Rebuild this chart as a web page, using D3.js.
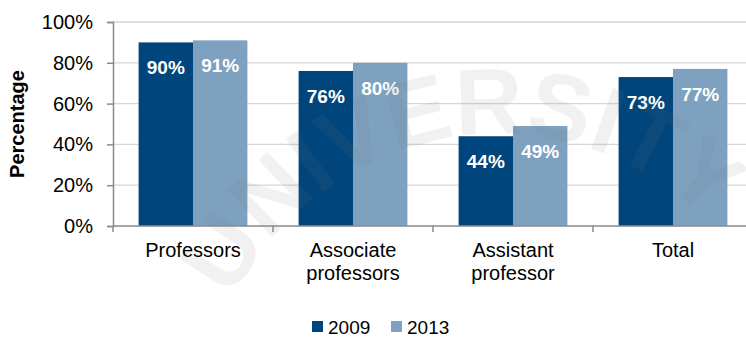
<!DOCTYPE html>
<html>
<head>
<meta charset="utf-8">
<script src="https://cdn.jsdelivr.net/npm/d3@7"></script>
<style>
  html, body { margin: 0; padding: 0; background: #fff; }
  svg { display: block; font-family: "Liberation Sans", Arial, sans-serif; }
</style>
</head>
<body>
<svg id="chart" width="746" height="338"></svg>
<script>
// Share of staff by rank, 2009 vs 2013
const categories = [["Professors"], ["Associate", "professors"], ["Assistant", "professor"], ["Total"]];
const seriesNames = ["2009", "2013"];
const values2009 = [90, 76, 44, 73];
const values2013 = [91, 80, 49, 77];
const yTicks = [0, 20, 40, 60, 80, 100];
const colors = ["#00467c", "#7ea1bf"];

const svg = d3.select("#chart");
const W = 746, H = 338;
const plot = { left: 113, right: 753, top: 22, bottom: 226 };

const keys = categories.map(c => c.join(" "));
// full-width category slots (for separators and labels)
const xCat = d3.scaleBand().domain(keys).range([plot.left, plot.right]);
// bar clusters inside each slot
const x0 = d3.scaleBand().domain(keys).range([plot.left, plot.right])
  .paddingInner(0.32).paddingOuter(0.16);
const x1 = d3.scaleBand().domain(seriesNames).range([0, x0.bandwidth()]);
const y = d3.scaleLinear().domain([0, 100]).range([plot.bottom, plot.top]);

// horizontal gridlines
svg.append("g").selectAll("line").data(yTicks.filter(t => t > 0)).join("line")
  .attr("x1", plot.left).attr("x2", W)
  .attr("y1", d => y(d)).attr("y2", d => y(d))
  .attr("stroke", "#d6d6d6").attr("stroke-width", 1.3);

// bars
const rows = keys.map((k, i) => ({ key: k, vals: [values2009[i], values2013[i]] }));
const groups = svg.append("g").selectAll("g").data(rows).join("g")
  .attr("transform", d => `translate(${x0(d.key)},0)`);

groups.selectAll("rect").data(d => d.vals.map((v, j) => ({ v, s: seriesNames[j], j }))).join("rect")
  .attr("x", d => x1(d.s))
  .attr("width", x1.bandwidth())
  .attr("y", d => y(d.v))
  .attr("height", d => y(0) - y(d.v))
  .attr("fill", d => colors[d.j]);

// faint arched watermark lettering
const wmMid = -0.16, wmHalf = 1.3;
const wm = svg.append("g").attr("pointer-events", "none");
wm.append("path").attr("id", "wmArc")
  .attr("d", d3.arc()({ innerRadius: 296, outerRadius: 296,
                        startAngle: wmMid - wmHalf, endAngle: wmMid + wmHalf }))
  .attr("transform", "translate(498,430)")
  .attr("fill", "none");
wm.append("text")
  .attr("font-size", 94).attr("font-weight", "bold")
  .attr("fill", "#7a7a7a").attr("fill-opacity", 0.1)
  .append("textPath").attr("href", "#wmArc")
  .attr("startOffset", "25%").attr("text-anchor", "middle")
  .text("UNIVERSITY");

// value labels
groups.selectAll("text.val").data(d => d.vals.map((v, j) => ({ v, s: seriesNames[j] }))).join("text")
  .attr("class", "val")
  .attr("x", d => x1(d.s) + x1.bandwidth() / 2)
  .attr("y", d => y(d.v) + 32)
  .attr("text-anchor", "middle")
  .attr("font-size", 19).attr("font-weight", "bold")
  .attr("fill", "#fff")
  .text(d => d.v + "%");

// y axis
const yAxis = svg.append("g").attr("transform", `translate(${plot.left},0)`)
  .call(d3.axisLeft(y).tickValues(yTicks).tickFormat(d => d + "%").tickSizeOuter(0).tickSize(6).tickPadding(14));
yAxis.select(".domain").attr("stroke", "#8a8a8a").attr("stroke-width", 1.5);
yAxis.selectAll(".tick line").attr("stroke", "#8a8a8a").attr("stroke-width", 1.5);
yAxis.selectAll(".tick text").attr("font-size", 20).attr("fill", "#000")
  .attr("font-family", "Liberation Sans, Arial, sans-serif");

// x axis baseline and category separators
const xAxis = svg.append("g");
xAxis.append("line").attr("x1", plot.left).attr("x2", W)
  .attr("y1", y(0)).attr("y2", y(0))
  .attr("stroke", "#8a8a8a").attr("stroke-width", 1.5);
xAxis.selectAll("line.sep").data(keys).join("line").attr("class", "sep")
  .attr("x1", d => xCat(d)).attr("x2", d => xCat(d))
  .attr("y1", y(0)).attr("y2", y(0) + 6)
  .attr("stroke", "#8a8a8a").attr("stroke-width", 1.5);

// category labels
const cat = xAxis.selectAll("text.cat").data(categories).join("text").attr("class", "cat")
  .attr("x", (d, i) => xCat(keys[i]) + xCat.bandwidth() / 2)
  .attr("y", 257)
  .attr("text-anchor", "middle")
  .attr("font-size", 20).attr("fill", "#000");
cat.selectAll("tspan").data(d => d).join("tspan")
  .attr("x", function () { return this.parentNode.getAttribute("x"); })
  .attr("dy", (d, i) => i === 0 ? 0 : 23)
  .text(d => d);

// y axis title
svg.append("text")
  .attr("transform", "translate(24,124) rotate(-90)")
  .attr("text-anchor", "middle")
  .attr("font-size", 20).attr("font-weight", "bold").attr("fill", "#000")
  .text("Percentage");

// legend
const legendX = [312, 391];
const legend = svg.append("g").selectAll("g").data(seriesNames).join("g")
  .attr("transform", (d, i) => `translate(${legendX[i]},321)`);
legend.append("rect").attr("width", 11).attr("height", 11)
  .attr("fill", (d, i) => colors[i]);
legend.append("text").attr("x", 16).attr("y", 13)
  .attr("font-size", 19).attr("fill", "#000")
  .text(d => d);
</script>
</body>
</html>
